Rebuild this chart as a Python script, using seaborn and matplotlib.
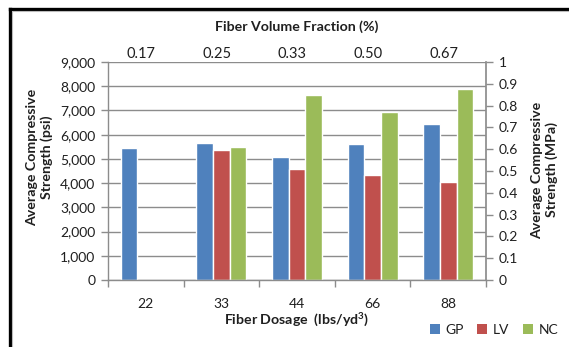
import numpy as np
import pandas as pd
import seaborn as sns
import matplotlib
matplotlib.use("Agg")
import matplotlib.pyplot as plt
from matplotlib.lines import Line2D
from matplotlib.patches import Patch
from matplotlib.ticker import FuncFormatter, MultipleLocator

# Fiber dosage categories (lbs/yd^3) and matching volume fractions (%)
dosages = ["22", "33", "44", "66", "88"]
volume_fractions = ["0.17", "0.25", "0.33", "0.50", "0.67"]

# Average compressive strength (psi) per fiber type
gp = [5450, 5650, 5070, 5610, 6440]
lv = [np.nan, 5360, 4570, 4330, 4050]
nc = [np.nan, 5500, 7650, 6930, 7880]

series_names = ["GP", "LV", "NC"]
colors = {"GP": "#4F81BD", "LV": "#C0504D", "NC": "#9BBB59"}

df = pd.DataFrame({
    "dosage": dosages * 3,
    "strength": gp + lv + nc,
    "fiber": [s for s in series_names for _ in dosages],
})

sns.set_theme(style="white")
plt.rcParams["font.family"] = ["Lato", "DejaVu Sans"]

W, H = 569, 347
fig = plt.figure(figsize=(W / 100, H / 100), dpi=100)
fig.patch.set_facecolor("white")

ax = fig.add_axes([108 / W, 1 - 280 / H, (486 - 108) / W, (280 - 62) / H])
grid_col = "#8C8C8C"
text_col = "#1F1F1F"
tick_fs = 10
label_fs = 10.2

sns.barplot(data=df, x="dosage", y="strength", hue="fiber", order=dosages,
            hue_order=series_names, palette=colors, width=0.66,
            saturation=1, errorbar=None, legend=False, ax=ax)

ax.set_ylim(0, 9000)
ax.set_xlim(-0.5, len(dosages) - 0.5)
ax.yaxis.set_major_locator(MultipleLocator(1000))
ax.yaxis.set_major_formatter(FuncFormatter(lambda v, p: f"{int(v):,}"))
ax.yaxis.grid(True, color=grid_col, linewidth=1.0)
ax.set_axisbelow(True)

for side in ["top", "right"]:
    ax.spines[side].set_visible(False)
for side in ["left", "bottom"]:
    ax.spines[side].set_color(grid_col)
    ax.spines[side].set_linewidth(1.0)

# category tick labels in the middle, boundary tick marks below the axis
ax.set_xticks(range(len(dosages)))
ax.set_xticklabels(dosages)
ax.tick_params(axis="x", which="major", length=0, pad=13, labelsize=tick_fs,
               labelcolor=text_col)
ax.set_xticks(np.arange(-0.5, len(dosages)), minor=True)
ax.tick_params(axis="x", which="minor", length=5, color=grid_col, width=1)
ax.tick_params(axis="y", length=5, color=grid_col, width=1, labelsize=tick_fs,
               labelcolor=text_col, left=True, pad=4)

ax.set_xlabel("Fiber Dosage  (lbs/yd$^\\mathregular{3}$)", fontsize=label_fs,
              fontweight="bold", color=text_col, labelpad=0)
ax.set_ylabel("Average Compressive\nStrength (psi)", fontsize=label_fs,
              fontweight="bold", color=text_col, linespacing=1.25)
ax.yaxis.set_label_coords(-0.145, 0.564)

# Secondary strength axis (MPa) on the right
ax2 = ax.twinx()
ax2.set_ylim(0, 1)
ax2.yaxis.set_major_locator(MultipleLocator(0.1))
ax2.yaxis.set_major_formatter(FuncFormatter(
    lambda v, p: str(int(round(v))) if round(v, 3) in (0, 1) else f"{v:.1f}"))
for side in ["top", "left", "bottom"]:
    ax2.spines[side].set_visible(False)
ax2.spines["right"].set_color(grid_col)
ax2.tick_params(axis="y", length=5, color=grid_col, width=1, labelsize=tick_fs,
                labelcolor=text_col, right=True, pad=4)
ax2.set_ylabel("Average Compressive\nStrength (MPa)", fontsize=label_fs,
               fontweight="bold", color=text_col, linespacing=1.25)
ax2.yaxis.set_label_coords(1.118, 0.505)
ax2.grid(False)

# Fiber volume fraction axis along the top
ax3 = ax.twiny()
ax3.set_xlim(ax.get_xlim())
ax3.set_xticks(np.arange(len(dosages)) - 0.06)
ax3.set_xticklabels(volume_fractions)
ax3.tick_params(axis="x", length=0, pad=1, labelsize=tick_fs + 0.5,
                labelcolor=text_col, top=True, labeltop=True,
                bottom=False, labelbottom=False)
for side in ax3.spines:
    ax3.spines[side].set_visible(False)
ax3.set_xlabel("Fiber Volume Fraction (%)", fontsize=label_fs, fontweight="bold",
               color=text_col, labelpad=11.5)
ax3.patch.set_visible(False)

# Legend at the lower right
handles = [Patch(facecolor=colors[s], edgecolor="none") for s in series_names]
fig.legend(handles, series_names, loc="center", bbox_to_anchor=(494 / W, 1 - 330 / H),
           ncol=3, frameon=False, fontsize=tick_fs, handlelength=0.7, handleheight=0.7,
           handletextpad=0.4, columnspacing=1.0, labelcolor=text_col)

# Frame edges along the left and top
fig.add_artist(Line2D([9.5 / W, 9.5 / W], [0, 1 - 8.5 / H], transform=fig.transFigure,
                      color="black", linewidth=2.4, solid_capstyle="projecting"))
fig.add_artist(Line2D([9.5 / W, 1], [1 - 8.5 / H, 1 - 8.5 / H], transform=fig.transFigure,
                      color="black", linewidth=2.4, solid_capstyle="projecting"))
fig.add_artist(Line2D([11.8 / W, 11.8 / W], [0, 1 - 10.8 / H], transform=fig.transFigure,
                      color="#BBBBBB", linewidth=0.8))
fig.add_artist(Line2D([11.8 / W, 1], [1 - 10.8 / H, 1 - 10.8 / H], transform=fig.transFigure,
                      color="#BBBBBB", linewidth=0.8))

fig.savefig("out.png", dpi=100)
